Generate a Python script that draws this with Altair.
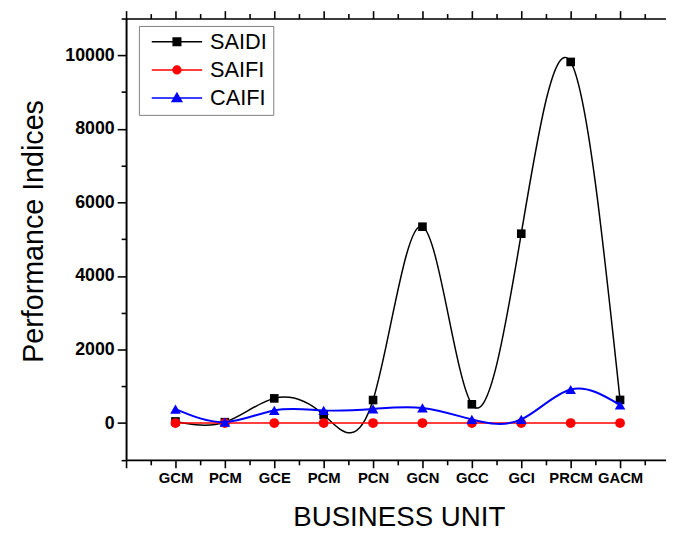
import json
import altair as alt
import pandas as pd

# ---------------- data ----------------
units = ["GCM", "PCM", "GCE", "PCM", "PCN", "GCN", "GCC", "GCI", "PRCM", "GACM"]
unit_pos = [1, 2, 3, 4, 5, 6, 7, 8, 9, 10]
saidi = [45, 25, 672, 224, 627, 5340, 511, 5150, 9820, 630]
saifi = [2, 2, 2, 2, 2, 2, 2, 2, 2, 2]
caifi = [381, 27, 345, 345, 385, 412, 99, 99, 914, 493]

series_names = ["SAIDI", "SAIFI", "CAIFI"]
series_colors = ["#000000", "#ff0000", "#0000ff"]
series_shapes = ["square", "circle", "triangle-up"]
series_sizes = [76, 98, 115]
series_widths = [1.5, 1.5, 2.0]

# legend glyphs: line segment + marker (unit square coordinates)
legend_paths = [
    "M-1,0L1,0M-0.15,-0.15L0.15,-0.15L0.15,0.15L-0.15,0.15Z",
    "M-1,0L1,0M0.155,0A0.155,0.155,0,1,1,-0.155,0A0.155,0.155,0,1,1,0.155,0Z",
    "M-1,0L1,0M0,-0.19L0.19,0.14L-0.19,0.14Z",
]

x_tick_values = [i / 2 for i in range(0, 22)]
y_tick_values = list(range(-1000, 11001, 1000))

rows = []
for name, vals in zip(series_names, [saidi, saifi, caifi]):
    for p, u, v in zip(unit_pos, units, vals):
        rows.append({"pos": p, "unit": u, "series": name, "value": v})
df = pd.DataFrame(rows)

FONT = "Liberation Sans"

xscale = alt.Scale(domain=[0, 10.93], nice=False, zero=False)
yscale = alt.Scale(domain=[-1000, 11000], nice=False, zero=False)

label_arr = json.dumps(units)

x_bottom = alt.Axis(
    orient="bottom",
    values=x_tick_values,
    labelExpr=f"(datum.value % 1 === 0 && datum.value >= 1 && datum.value <= 10) ? {label_arr}[datum.value - 1] : ''",
    tickSize={"condition": {"test": "datum.value % 1 === 0", "value": 8}, "value": 5},
    tickWidth=1.6,
    tickColor="black",
    domainColor="black",
    domainWidth=2,
    labelFont=FONT,
    labelFontSize=15,
    labelFontWeight="bold",
    labelColor="black",
    labelPadding=3,
    labelOverlap=False,
    labelFlush=False,
    labelBound=False,
    grid=False,
    title="BUSINESS UNIT",
    titleFont=FONT,
    titleFontSize=28,
    titleFontWeight="normal",
    titleColor="black",
    titleX=276,
    titleY=66,
    titleAlign="center",
    titleBaseline="alphabetic",
)

x_top = alt.Axis(
    orient="top",
    values=x_tick_values,
    labels=False,
    tickSize={"condition": {"test": "datum.value % 1 === 0", "value": 8}, "value": 5},
    tickWidth=1.6,
    tickColor="black",
    domainColor="black",
    domainWidth=1.6,
    grid=False,
    title=None,
)

y_left = alt.Axis(
    orient="left",
    values=y_tick_values,
    format="d",
    labelExpr="(datum.value >= 0 && datum.value % 2000 === 0) ? datum.label : ''",
    tickSize={"condition": {"test": "datum.value % 2000 === 0", "value": 9}, "value": 5},
    tickWidth=1.6,
    tickColor="black",
    domainColor="black",
    domainWidth=2,
    labelFont=FONT,
    labelFontSize=18,
    labelFontWeight="bold",
    labelColor="black",
    labelPadding=3,
    labelOverlap=False,
    labelFlush=False,
    labelBound=False,
    grid=False,
    title="Performance Indices",
    titleFont=FONT,
    titleFontSize=29,
    titleFontWeight="normal",
    titleColor="black",
    titleAngle=270,
    titleX=-85,
    titleY=215,
    titleAlign="center",
    titleBaseline="alphabetic",
)

base = alt.Chart(df)
layers = []
for i, (name, col, shp, sz, lw) in enumerate(
    zip(series_names, series_colors, series_shapes, series_sizes, series_widths)
):
    line_x_axis = x_bottom if i == 0 else None
    line_y_axis = y_left if i == 0 else None
    pt_x_axis = x_top if i == 0 else None
    line = (
        base.transform_filter(alt.datum.series == name)
        .mark_line(interpolate="natural", color=col, strokeWidth=lw)
        .encode(
            x=alt.X("pos:Q", scale=xscale, axis=line_x_axis),
            y=alt.Y("value:Q", scale=yscale, axis=line_y_axis),
        )
    )
    pts = (
        base.transform_filter(alt.datum.series == name)
        .mark_point(shape=shp, filled=True, size=sz, color=col, opacity=1)
        .encode(
            x=alt.X("pos:Q", scale=xscale, axis=pt_x_axis),
            y=alt.Y("value:Q", scale=yscale, axis=None),
        )
    )
    layers += [line, pts]

leg = alt.Legend(
    orient="none",
    legendX=13,
    legendY=7.5,
    title=None,
    padding=6,
    strokeColor="#808080",
    fillColor="#ffffff",
    symbolSize=2601,
    symbolStrokeWidth=1.5,
    symbolOpacity=1,
    clipHeight=20,
    rowPadding=6.5,
    symbolOffset=6,
    labelOffset=7,
    labelFont=FONT,
    labelFontSize=22,
    labelColor="black",
    labelLimit=300,
    direction="vertical",
)

legend_layer = (
    base.transform_filter("false")
    .mark_point(filled=True, opacity=1, strokeWidth=1.5)
    .encode(
        shape=alt.Shape("series:N", scale=alt.Scale(domain=series_names, range=legend_paths), legend=leg),
        fill=alt.Fill("series:N", scale=alt.Scale(domain=series_names, range=series_colors), legend=leg),
        stroke=alt.Stroke("series:N", scale=alt.Scale(domain=series_names, range=series_colors), legend=leg),
    )
)
layers.append(legend_layer)

chart = (
    alt.layer(*layers)
    .resolve_axis(x="independent", y="independent")
    .properties(
        width=546.5,
        height=446.7,
        autosize=alt.AutoSizeParams(type="none"),
        padding={"left": 119.5, "top": 7.5, "right": 0, "bottom": 68},
        background="white",
    )
    .configure_view(stroke=None)
    .configure(font=FONT)
)

chart.save("out.html", embed_options={"renderer": "svg", "actions": False})
